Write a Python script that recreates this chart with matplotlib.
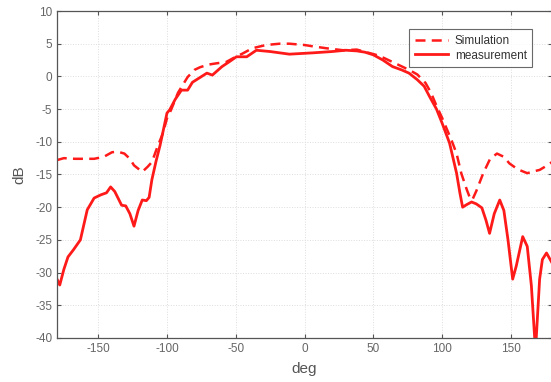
import matplotlib
matplotlib.use("Agg")
import matplotlib.pyplot as plt

plt.rcParams['font.family'] = ['Liberation Sans', 'DejaVu Sans']
plt.rcParams['axes.unicode_minus'] = False

meas_x = [-180, -178, -175, -172, -168, -163, -158, -153, -148, -144, -141, -138,
          -133, -130, -127, -124, -121, -118, -115, -113, -111, -108, -105, -100,
          -98, -94, -89.5, -85, -81.5, -77, -71, -67, -60, -55, -49.5, -45, -42,
          -35, -25, -11, 6, 20, 30, 38, 44, 50, 57, 64, 70.6, 76, 82, 87, 91, 96,
          100, 105.5, 110.6, 113, 115, 118, 121.5, 125, 129, 132, 134.6, 138, 142,
          145, 148, 151.4, 154, 158.7, 162, 165, 168, 171, 173, 176, 180]
meas_y = [-31, -31.9, -29.5, -27.6, -26.5, -25, -20.4, -18.6, -18.1, -17.8, -16.9,
          -17.6, -19.7, -19.8, -21, -22.9, -20.5, -18.9, -19, -18.5, -15.8, -13,
          -10.5, -5.6, -5.1, -3.5, -2.1, -2.1, -0.9, -0.3, 0.5, 0.2, 1.5, 2.2, 3.0,
          3.0, 3.0, 4.0, 3.8, 3.4, 3.6, 3.8, 4.0, 3.9, 3.7, 3.3, 2.5, 1.5, 1.0, 0.5,
          -0.5, -1.5, -3.1, -5.0, -7.1, -10.2, -14.8, -17.8, -20.0, -19.6, -19.2,
          -19.5, -20.1, -22.0, -24.0, -21.0, -18.9, -20.5, -25.0, -31.0, -29.0,
          -24.5, -26.0, -32.0, -42.0, -31.0, -28.0, -27.0, -28.5]

sim_x = [-180, -175, -167, -160, -153, -146, -140, -136, -131, -127, -124, -118,
         -114, -111, -107, -103, -100, -97, -92, -85, -80, -76, -70, -64, -57, -50,
         -45, -38, -28, -18, -11, 0, 6, 16, 28, 38, 45, 52, 58, 64, 70, 76, 82, 88,
         92, 96, 100, 103, 107, 110.6, 114, 118, 120, 122, 125, 130, 135, 140, 145,
         149, 155, 162, 167, 171, 175, 180]
sim_y = [-12.8, -12.5, -12.6, -12.6, -12.6, -12.3, -11.6, -11.5, -11.8, -12.6,
         -13.6, -14.6, -13.8, -13.1, -10.8, -8.7, -6.4, -5.1, -2.5, -0.1, 1.0, 1.4,
         1.8, 2.0, 2.2, 3.0, 3.5, 4.3, 4.8, 5.0, 5.0, 4.8, 4.6, 4.3, 4.0, 4.1, 3.7,
         3.3, 2.8, 2.2, 1.6, 1.0, 0.3, -1.0, -2.5, -4.5, -6.3, -7.8, -9.8, -11.8,
         -14.8, -17.3, -18.4, -18.9, -17.5, -14.8, -12.6, -11.8, -12.3, -13.3,
         -14.2, -14.8, -14.5, -14.3, -13.8, -13.1]

xticks = [-150, -100, -50, 0, 50, 100, 150]
yticks = [10, 5, 0, -5, -10, -15, -20, -25, -30, -35, -40]

fig = plt.figure(figsize=(5.51, 3.82), dpi=100)
ax = fig.add_axes([57/551, 44/382, 495/551, 327/382])

ax.plot(sim_x, sim_y, color='#ff1a1a', lw=1.8, ls=(0, (4, 2.5)), label='Simulation')
ax.plot(meas_x, meas_y, color='#ff1a1a', lw=2.0, label='measurement')

ax.set_xlim(-180, 180)
ax.set_ylim(-40, 10)
ax.set_xticks(xticks)
ax.set_yticks(yticks)
ax.grid(True, color='#dddddd', ls=':', lw=0.7)
ax.tick_params(direction='in', top=True, right=True, length=3, colors='#555555',
               labelcolor='#666666', labelsize=8.5, width=0.8)
for s in ax.spines.values():
    s.set_color('#555555')
    s.set_linewidth(0.9)

ax.set_xlabel('deg', color='#555555', fontsize=11, labelpad=5)
ax.set_ylabel('dB', color='#555555', fontsize=11, labelpad=6)

leg = ax.legend(loc='upper right', bbox_to_anchor=(0.972, 0.962), fontsize=8.5,
                frameon=True, fancybox=False, handlelength=2.8, borderpad=0.45,
                labelspacing=0.25, handletextpad=0.6)
leg.get_frame().set_edgecolor('#444444')
leg.get_frame().set_linewidth(0.8)
for t in leg.get_texts():
    t.set_color('#333333')

fig.savefig('out.png', dpi=100)
